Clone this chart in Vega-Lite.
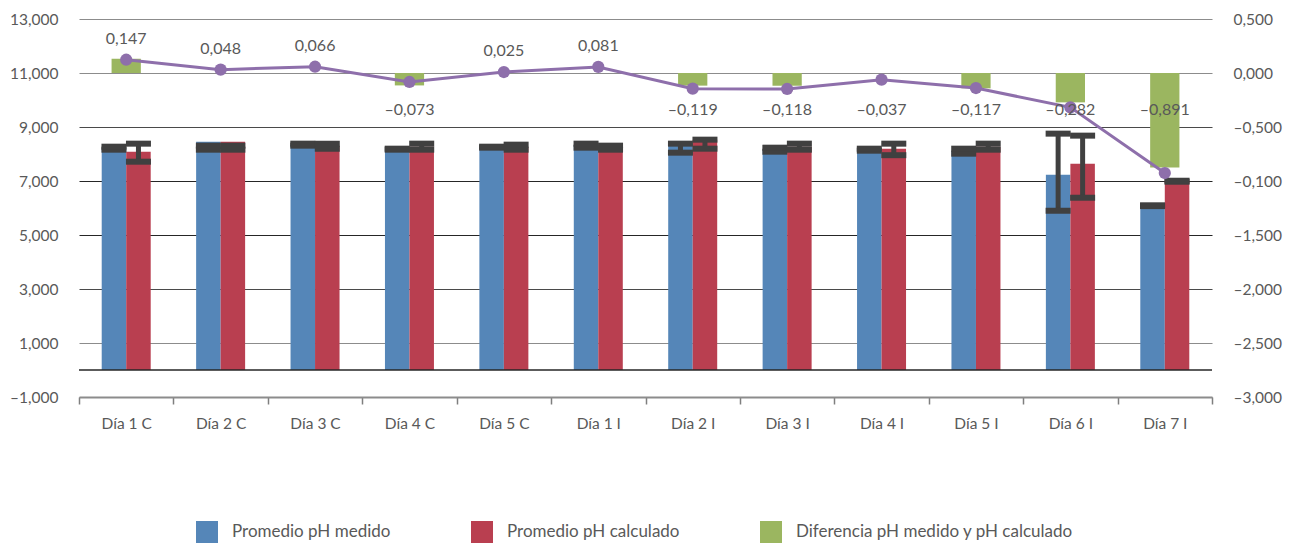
{
  "$schema": "https://vega.github.io/schema/vega-lite/v6.json",
  "width": 1133,
  "height": 378,
  "autosize": {"type": "none"},
  "padding": {"left": 79, "top": 19, "right": 80, "bottom": 149},
  "background": "white",
  "config": {
    "view": {"stroke": null},
    "font": "Lato",
    "axis": {"labelFont": "Lato", "labelColor": "#595959", "labelFontSize": 15.5},
    "legend": {"labelFont": "Lato"}
  },
  "datasets": {
    "ph": [
      {"categoria": "Día 1 C", "serie": "Promedio pH medido", "valor": 8.216, "lo": 8.160, "hi": 8.271},
      {"categoria": "Día 1 C", "serie": "Promedio pH calculado", "valor": 8.086, "lo": 7.715, "hi": 8.383},
      {"categoria": "Día 2 C", "serie": "Promedio pH medido", "valor": 8.457, "lo": 8.160, "hi": 8.309},
      {"categoria": "Día 2 C", "serie": "Promedio pH calculado", "valor": 8.457, "lo": 8.160, "hi": 8.309},
      {"categoria": "Día 3 C", "serie": "Promedio pH medido", "valor": 8.346, "lo": 8.309, "hi": 8.383},
      {"categoria": "Día 3 C", "serie": "Promedio pH calculado", "valor": 8.290, "lo": 8.197, "hi": 8.383},
      {"categoria": "Día 4 C", "serie": "Promedio pH medido", "valor": 8.179, "lo": 8.160, "hi": 8.197},
      {"categoria": "Día 4 C", "serie": "Promedio pH calculado", "valor": 8.271, "lo": 8.160, "hi": 8.383},
      {"categoria": "Día 5 C", "serie": "Promedio pH medido", "valor": 8.253, "lo": 8.234, "hi": 8.271},
      {"categoria": "Día 5 C", "serie": "Promedio pH calculado", "valor": 8.253, "lo": 8.160, "hi": 8.346},
      {"categoria": "Día 1 I", "serie": "Promedio pH medido", "valor": 8.309, "lo": 8.234, "hi": 8.383},
      {"categoria": "Día 1 I", "serie": "Promedio pH calculado", "valor": 8.234, "lo": 8.160, "hi": 8.309},
      {"categoria": "Día 2 I", "serie": "Promedio pH medido", "valor": 8.383, "lo": 8.049, "hi": 8.383},
      {"categoria": "Día 2 I", "serie": "Promedio pH calculado", "valor": 8.531, "lo": 8.197, "hi": 8.531},
      {"categoria": "Día 3 I", "serie": "Promedio pH medido", "valor": 8.160, "lo": 8.086, "hi": 8.234},
      {"categoria": "Día 3 I", "serie": "Promedio pH calculado", "valor": 8.271, "lo": 8.160, "hi": 8.383},
      {"categoria": "Día 4 I", "serie": "Promedio pH medido", "valor": 8.160, "lo": 8.123, "hi": 8.197},
      {"categoria": "Día 4 I", "serie": "Promedio pH calculado", "valor": 8.197, "lo": 7.956, "hi": 8.383},
      {"categoria": "Día 5 I", "serie": "Promedio pH medido", "valor": 8.105, "lo": 8.012, "hi": 8.197},
      {"categoria": "Día 5 I", "serie": "Promedio pH calculado", "valor": 8.271, "lo": 8.160, "hi": 8.383},
      {"categoria": "Día 6 I", "serie": "Promedio pH medido", "valor": 7.233, "lo": 5.898, "hi": 8.754},
      {"categoria": "Día 6 I", "serie": "Promedio pH calculado", "valor": 7.641, "lo": 6.380, "hi": 8.680},
      {"categoria": "Día 7 I", "serie": "Promedio pH medido", "valor": 6.083, "lo": 6.070, "hi": 6.100},
      {"categoria": "Día 7 I", "serie": "Promedio pH calculado", "valor": 6.992, "lo": 6.973, "hi": 7.010}
    ],
    "dif": [
      {"categoria": "Día 1 C", "dif_barra": 0.132, "linea": 0.123, "etiqueta": "0,147"},
      {"categoria": "Día 2 C", "dif_barra": 0, "linea": 0.031, "etiqueta": "0,048"},
      {"categoria": "Día 3 C", "dif_barra": 0, "linea": 0.058, "etiqueta": "0,066"},
      {"categoria": "Día 4 C", "dif_barra": -0.115, "linea": -0.083, "etiqueta": "–0,073"},
      {"categoria": "Día 5 C", "dif_barra": 0, "linea": 0.009, "etiqueta": "0,025"},
      {"categoria": "Día 1 I", "dif_barra": 0, "linea": 0.056, "etiqueta": "0,081"},
      {"categoria": "Día 2 I", "dif_barra": -0.117, "linea": -0.145, "etiqueta": "–0,119"},
      {"categoria": "Día 3 I", "dif_barra": -0.118, "linea": -0.148, "etiqueta": "–0,118"},
      {"categoria": "Día 4 I", "dif_barra": 0, "linea": -0.062, "etiqueta": "–0,037"},
      {"categoria": "Día 5 I", "dif_barra": -0.142, "linea": -0.139, "etiqueta": "–0,117"},
      {"categoria": "Día 6 I", "dif_barra": -0.272, "linea": -0.318, "etiqueta": "–0,282"},
      {"categoria": "Día 7 I", "dif_barra": -0.874, "linea": -0.926, "etiqueta": "–0,891"}
    ]
  },
  "layer": [
    {
      "data": {"name": "ph"},
      "encoding": {
        "x": {
          "field": "categoria", "type": "nominal",
          "scale": {"domain": ["Día 1 C", "Día 2 C", "Día 3 C", "Día 4 C", "Día 5 C", "Día 1 I", "Día 2 I", "Día 3 I", "Día 4 I", "Día 5 I", "Día 6 I", "Día 7 I"], "paddingInner": 0, "paddingOuter": 0},
          "axis": {"title": null, "labelAngle": 0, "tickBand": "extent", "domainColor": "#8c8c8c", "domainWidth": 2, "tickColor": "#7f7f7f", "tickSize": 7, "tickWidth": 1.5, "labelPadding": 12, "grid": false}
        },
        "xOffset": {"field": "serie", "type": "nominal", "scale": {"domain": ["Promedio pH medido", "Promedio pH calculado"], "paddingInner": 0, "paddingOuter": 0.927}}
      },
      "layer": [
        {
          "mark": {"type": "bar"},
          "encoding": {
            "y": {
              "field": "valor", "type": "quantitative",
              "scale": {"domain": [-1, 13], "nice": false, "zero": false},
              "axis": {
                "title": null, "values": [-1, 1, 3, 5, 7, 9, 11, 13], "domain": false, "ticks": false, "labelPadding": 21,
                "gridColor": {"condition": [{"test": "datum.value == 7 || datum.value == 5", "value": "#262626"}, {"test": "datum.value == 9 || datum.value == 3", "value": "#4a4a4a"}], "value": "#8c8c8c"},
                "gridWidth": 1.2,
                "labelExpr": "(datum.value < 0 ? '–' : '') + replace(format(abs(datum.value), '.3f'), '.', ',')"
              }
            },
            "y2": {"datum": 0},
            "color": {
              "field": "serie", "type": "nominal",
              "scale": {"domain": ["Promedio pH medido", "Promedio pH calculado", "Diferencia pH medido y pH calculado"], "range": ["#5586b8", "#b93f50", "#9bb660"]},
              "legend": {"title": null, "orient": "none", "legendX": 117, "legendY": 502, "direction": "horizontal", "symbolType": "square", "symbolSize": 484, "symbolStrokeWidth": 0, "labelFontSize": 17, "labelColor": "#595959", "labelOffset": 14, "labelLimit": 0, "columnPadding": 80}
            }
          }
        },
        {
          "data": {"values": [{"cero": 0}]},
          "mark": {"type": "rule", "color": "#262626", "strokeWidth": 1.5},
          "encoding": {"x": null, "xOffset": null, "y": {"field": "cero", "type": "quantitative", "title": null}}
        },
        {
          "mark": {"type": "rule", "color": "#404040", "strokeWidth": 5},
          "encoding": {"y": {"field": "lo", "type": "quantitative", "title": null}, "y2": {"field": "hi"}}
        },
        {
          "mark": {"type": "tick", "color": "#404040", "thickness": 6, "size": 25, "opacity": 1},
          "encoding": {"y": {"field": "lo", "type": "quantitative", "title": null}}
        },
        {
          "mark": {"type": "tick", "color": "#404040", "thickness": 6, "size": 25, "opacity": 1},
          "encoding": {"y": {"field": "hi", "type": "quantitative", "title": null}}
        }
      ]
    },
    {
      "data": {"name": "dif"},
      "encoding": {
        "x": {"field": "categoria", "type": "nominal"}
      },
      "layer": [
        {
          "mark": {"type": "bar", "width": {"band": 0.31}},
          "encoding": {
            "y": {
              "field": "dif_barra", "type": "quantitative",
              "scale": {"domain": [-3, 0.5], "nice": false, "zero": false},
              "axis": {"title": null, "orient": "right", "values": [-3, -2.5, -2, -1.5, -1, -0.5, 0, 0.5], "grid": false, "domain": false, "ticks": false, "labelPadding": 21, "labelExpr": "datum.value == -1 ? '–0,100' : (datum.value < 0 ? '–' : '') + replace(format(abs(datum.value), '.3f'), '.', ',')"}
            },
            "y2": {"datum": 0},
            "color": {"datum": "Diferencia pH medido y pH calculado", "type": "nominal"}
          }
        },
        {
          "mark": {"type": "line", "color": "#8e6fab", "strokeWidth": 3},
          "encoding": {"y": {"field": "linea", "type": "quantitative", "title": null}}
        },
        {
          "mark": {"type": "circle", "color": "#8e6fab", "size": 150, "opacity": 1},
          "encoding": {"y": {"field": "linea", "type": "quantitative", "title": null}}
        },
        {
          "transform": [{"filter": "datum.linea >= 0"}],
          "mark": {"type": "text", "fontSize": 16, "color": "#595959", "dy": -21, "baseline": "middle", "font": "Lato"},
          "encoding": {"y": {"field": "linea", "type": "quantitative", "title": null}, "text": {"field": "etiqueta"}}
        },
        {
          "transform": [{"filter": "datum.linea < 0"}],
          "mark": {"type": "text", "fontSize": 16, "color": "#595959", "baseline": "middle", "font": "Lato"},
          "encoding": {"y": {"datum": -0.34, "type": "quantitative"}, "text": {"field": "etiqueta"}}
        }
      ]
    }
  ],
  "resolve": {"scale": {"y": "independent"}}
}
